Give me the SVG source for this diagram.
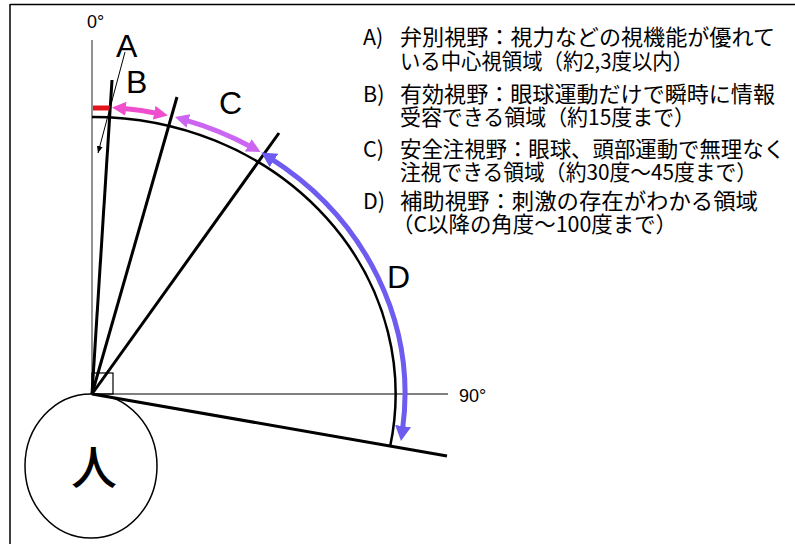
<svg xmlns="http://www.w3.org/2000/svg" width="795" height="544" viewBox="0 0 795 544">
<defs>
<style>
.thin{stroke:#555;stroke-width:1.3;fill:none}
.ray{stroke:#000;stroke-width:3;fill:none;stroke-linecap:butt}
.lbl{font-family:"Liberation Sans",Arial,sans-serif;font-size:32px;fill:#000}
.deg{font-family:"Liberation Sans",Arial,sans-serif;font-size:18px;fill:#000}
.jp{font-family:"Noto Sans CJK JP","Noto Sans",sans-serif;font-size:21.5px;fill:#000}
.arr{fill:none;stroke-width:5}
</style>
<marker id="mB" markerUnits="userSpaceOnUse" markerWidth="16" markerHeight="14" refX="4" refY="7" orient="auto-start-reverse"><path d="M0,0 L14,7 L0,14 z" fill="#ef4fcf"/></marker>
<marker id="mC" markerUnits="userSpaceOnUse" markerWidth="16" markerHeight="14" refX="4" refY="7" orient="auto-start-reverse"><path d="M0,0 L14,7 L0,14 z" fill="#cc66f2"/></marker>
<marker id="mD" markerUnits="userSpaceOnUse" markerWidth="18" markerHeight="16" refX="4" refY="8" orient="auto-start-reverse"><path d="M0,0 L15,8 L0,16 z" fill="#6e5cf0"/></marker>
<marker id="mS" markerUnits="userSpaceOnUse" markerWidth="8" markerHeight="8" refX="7" refY="3" orient="auto"><path d="M0,0 L7,3 L0,6 z" fill="#000"/></marker>
</defs>
<rect width="795" height="544" fill="#fff"/>
<g id="frame"><path d="M10,4.5 H795 M10,4 V544" stroke="#000" stroke-width="1.5" fill="none"/></g>

<g id="axes">
<line class="thin" x1="92" y1="40" x2="92" y2="394"/>
<line class="thin" x1="92" y1="394" x2="448" y2="394"/>
<rect x="92" y="373" width="21" height="21" fill="none" stroke="#000" stroke-width="1.2"/>
<text class="deg" x="87" y="28">0°</text>
<text class="deg" x="459" y="402">90°</text>
</g>

<g id="rays">
<line class="ray" x1="92" y1="394" x2="112" y2="80"/>
<line class="ray" x1="92" y1="394" x2="177" y2="97"/>
<line class="ray" x1="92" y1="394" x2="279" y2="133"/>
<line class="ray" x1="92" y1="394" x2="447" y2="456"/>
<path d="M92,117 A303,277 0 0 1 390,447" fill="none" stroke="#000" stroke-width="2.5"/>
</g>

<g id="connectors">
<line x1="93" y1="108" x2="110" y2="108" stroke="#e0141a" stroke-width="5"/>
<path class="arr" d="M122.0,108.3 A313,287 0 0 1 158.1,113.5" stroke="#ef4fcf" marker-start="url(#mB)" marker-end="url(#mB)"/>
<path class="arr" d="M184.6,119.8 A313,287 0 0 1 251.8,147.2" stroke="#cc66f2" marker-start="url(#mC)" marker-end="url(#mC)"/>
<path class="arr" d="M270.6,158.3 A313,287 0 0 1 402.5,430" stroke="#6e5cf0" marker-start="url(#mD)" marker-end="url(#mD)"/>
<line x1="125" y1="52" x2="98" y2="153" stroke="#000" stroke-width="1" marker-end="url(#mS)"/>
</g>

<g id="labels">
<text class="lbl" x="116" y="57">A</text>
<text class="lbl" x="126" y="93">B</text>
<text class="lbl" x="219" y="114">C</text>
<text class="lbl" x="387" y="288">D</text>
</g>

<g id="person">
<ellipse cx="91" cy="466" rx="66" ry="72" fill="none" stroke="#000" stroke-width="1.5"/>
<text x="94" y="484" text-anchor="middle" font-family="'Noto Sans CJK JP',sans-serif" font-size="46" font-weight="500">人</text>
</g>

<g id="legend" class="jp">
<text x="363" y="45">A)</text><text x="400" y="45" textLength="375" lengthAdjust="spacingAndGlyphs">弁別視野：視力などの視機能が優れて</text>
<text x="400" y="69" textLength="293" lengthAdjust="spacingAndGlyphs">いる中心視領域（約2,3度以内）</text>
<text x="363" y="102">B)</text><text x="400" y="102" textLength="375" lengthAdjust="spacingAndGlyphs">有効視野：眼球運動だけで瞬時に情報</text>
<text x="400" y="125" textLength="295" lengthAdjust="spacingAndGlyphs">受容できる領域（約15度まで）</text>
<text x="363" y="157">C)</text><text x="400" y="157" textLength="385" lengthAdjust="spacingAndGlyphs">安全注視野：眼球、頭部運動で無理なく</text>
<text x="400" y="180" textLength="357" lengthAdjust="spacingAndGlyphs">注視できる領域（約30度～45度まで）</text>
<text x="363" y="209">D)</text><text x="400" y="209" textLength="358" lengthAdjust="spacingAndGlyphs">補助視野：刺激の存在がわかる領域</text>
<text x="392" y="232" textLength="285" lengthAdjust="spacingAndGlyphs">（C以降の角度～100度まで）</text>
</g>
</svg>
